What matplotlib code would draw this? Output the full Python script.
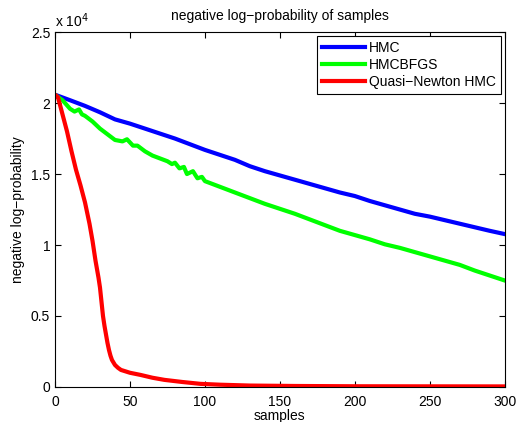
import matplotlib
matplotlib.use('Agg')
from matplotlib import pyplot as plt
import matplotlib.ticker as mtick

plt.rcParams['font.family'] = ['Liberation Sans', 'DejaVu Sans']

# values in units of 1e4
hmc_x = [1, 10, 20, 30, 40, 50, 60, 70, 80, 90, 100, 110, 120, 130, 140, 150,
         160, 170, 180, 190, 200, 210, 220, 230, 240, 250, 260, 270, 280, 290, 300]
hmc_y = [2.055, 2.02, 1.98, 1.935, 1.885, 1.855, 1.82, 1.785, 1.75, 1.71, 1.67,
         1.635, 1.60, 1.555, 1.52, 1.49, 1.46, 1.43, 1.40, 1.37, 1.345, 1.31,
         1.28, 1.25, 1.22, 1.20, 1.175, 1.15, 1.125, 1.10, 1.077]

bfgs_x = [1, 5, 10, 13, 16, 18, 20, 25, 30, 35, 40, 45, 48, 52, 55, 60, 65, 70,
          75, 78, 80, 83, 86, 88, 92, 95, 98, 100, 110, 120, 130, 140, 150, 160,
          170, 180, 190, 200, 210, 220, 230, 240, 250, 260, 270, 280, 290, 300]
bfgs_y = [2.05, 2.02, 1.96, 1.94, 1.955, 1.92, 1.91, 1.87, 1.82, 1.78, 1.74,
          1.73, 1.745, 1.70, 1.70, 1.66, 1.63, 1.61, 1.59, 1.57, 1.58, 1.54,
          1.55, 1.50, 1.52, 1.47, 1.48, 1.45, 1.41, 1.37, 1.33, 1.29, 1.255,
          1.22, 1.18, 1.14, 1.10, 1.07, 1.04, 1.005, 0.98, 0.95, 0.92, 0.89,
          0.86, 0.82, 0.785, 0.75]

qn_x = [1, 2, 4, 6, 8, 11, 14, 17, 20, 23, 25, 27, 29, 30, 31, 32, 33, 34, 35,
        36, 37, 38, 40, 42, 44, 50, 57, 65, 73, 85, 97, 110, 130, 160, 200, 300]
qn_y = [2.05, 2.04, 1.96, 1.88, 1.80, 1.66, 1.53, 1.42, 1.30, 1.15, 1.03,
        0.89, 0.77, 0.70, 0.60, 0.50, 0.43, 0.37, 0.31, 0.26, 0.22, 0.19,
        0.155, 0.135, 0.12, 0.10, 0.085, 0.065, 0.05, 0.035, 0.022, 0.016,
        0.01, 0.007, 0.005, 0.004]

fig = plt.figure(figsize=(5.26, 4.22), dpi=100)
ax = fig.add_axes([0.1046, 0.083, 0.855, 0.841])

ax.plot(hmc_x, hmc_y, color=(0, 0, 1), linewidth=3, label='HMC')
ax.plot(bfgs_x, bfgs_y, color=(0, 1, 0), linewidth=3, label='HMCBFGS')
ax.plot(qn_x, qn_y, color=(1, 0, 0), linewidth=3, label='Quasi\u2212Newton HMC')

ax.set_xlim(0, 300)
ax.set_ylim(0, 2.5)
ax.set_xticks(range(0, 301, 50))
ax.set_yticks([0, 0.5, 1, 1.5, 2, 2.5])
ax.yaxis.set_major_formatter(mtick.FuncFormatter(lambda v, p: '%g' % v))
ax.tick_params(direction='in', top=True, right=True, labelsize=10, length=4)
ax.tick_params(axis='x', pad=6)

ax.text(0.0, 1.005, 'x 10$^{4}$', transform=ax.transAxes, fontsize=10,
        ha='left', va='bottom')
ax.set_title('negative log\u2212probability of samples', fontsize=10, pad=9)
ax.set_xlabel('samples', fontsize=10, labelpad=0)
ax.set_ylabel('negative log\u2212probability', fontsize=10, labelpad=4)

leg = ax.legend(loc='upper right', fontsize=10, handlelength=3.1,
                fancybox=False, framealpha=1, borderaxespad=0.3,
                labelspacing=0.2, borderpad=0.35, handletextpad=0.25)
leg.get_frame().set_edgecolor('black')
leg.get_frame().set_linewidth(0.8)

plt.savefig('out.png', dpi=100)
